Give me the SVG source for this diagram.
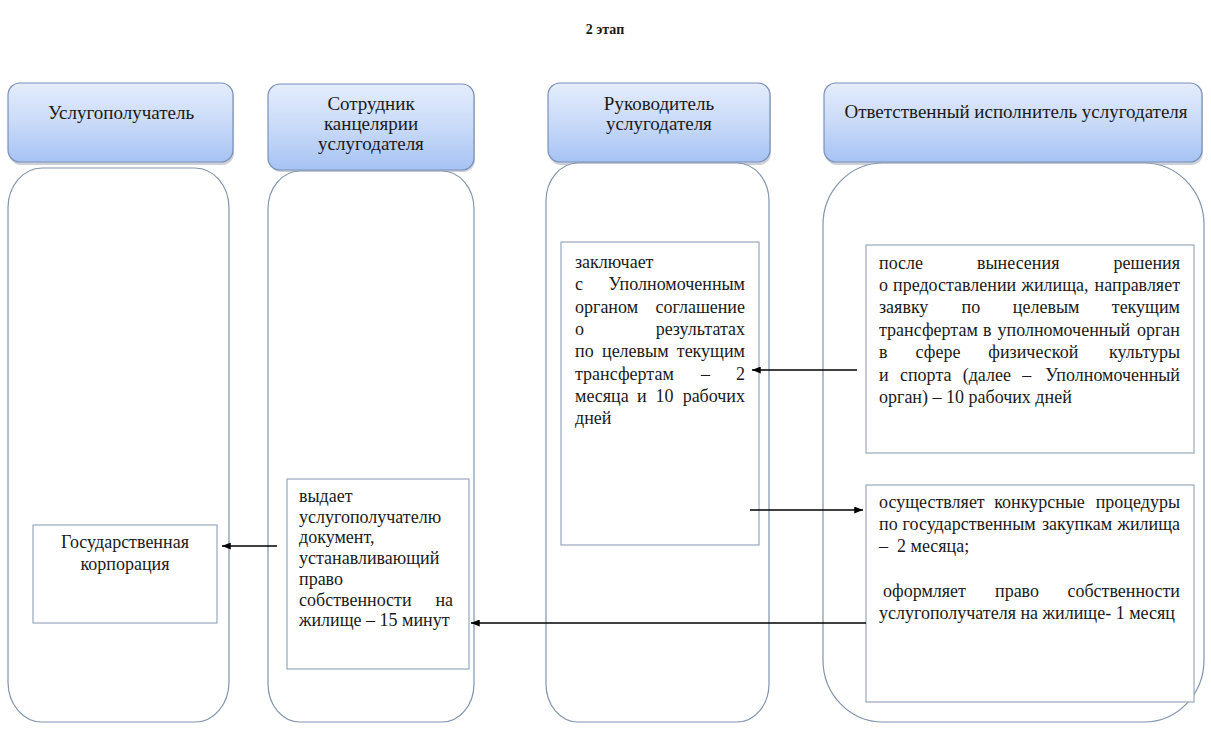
<svg xmlns="http://www.w3.org/2000/svg" width="1211" height="731" viewBox="0 0 1211 731" font-family="Liberation Serif, Times New Roman, serif" font-size="18">
<style>
text{fill:#1a1a1a}
.title{font-weight:bold;font-size:14px}
.h{font-size:19px}
.c{text-anchor:middle}
.e{text-anchor:end}
.hdr{fill:url(#hg);stroke:#7b90b8;stroke-width:1.2}
.shd{fill:#8d97aa;opacity:.45}
.lane{fill:#fff;stroke:#8194ad;stroke-width:1.2}
.box{fill:#fff;stroke:#8ea1b7;stroke-width:1.1}
.arr{stroke:#000;stroke-width:1.3;fill:none;marker-end:url(#ah)}
</style>
<defs>
<linearGradient id="hg" x1="0" y1="0" x2="0" y2="1">
<stop offset="0" stop-color="#e4edfc"/>
<stop offset="0.5" stop-color="#c9daf8"/>
<stop offset="1" stop-color="#a6c3f3"/>
</linearGradient>
<marker id="ah" viewBox="0 0 10 8" refX="10" refY="4" markerWidth="9" markerHeight="7" markerUnits="userSpaceOnUse" orient="auto">
<path d="M0,0 L10,4 L0,8 z" fill="#000"/>
</marker>
</defs>
<rect width="1211" height="731" fill="#fff"/>
<text class="title c" x="605" y="34" font-family="Liberation Serif, serif" font-weight="bold" font-size="14">2 этап</text>

<g id="lane1" font-family="Liberation Serif, serif">
<rect class="shd" x="9" y="85" width="225" height="80" rx="12"/>
<rect class="hdr" x="8" y="83" width="225" height="79" rx="12"/>
<text class="c h" x="121" y="119" font-size="19">Услугополучатель</text>
<rect class="lane" x="8" y="168" width="221" height="554" rx="34" ry="40"/>
</g>
<g id="lane2" font-family="Liberation Serif, serif">
<rect class="shd" x="269" y="86" width="206" height="86" rx="12"/>
<rect class="hdr" x="268" y="84" width="206" height="86" rx="12"/>
<text class="c h" x="371" y="110" font-size="19">Сотрудник</text>
<text class="c h" x="371" y="130" font-size="19">канцелярии</text>
<text class="c h" x="371" y="150" font-size="19">услугодателя</text>
<rect class="lane" x="268" y="171" width="206" height="551" rx="32" ry="38"/>
</g>
<g id="lane3" font-family="Liberation Serif, serif">
<rect class="shd" x="549" y="85" width="222" height="80" rx="12"/>
<rect class="hdr" x="548" y="83" width="222" height="79" rx="12"/>
<text class="c h" x="659" y="110" font-size="19">Руководитель</text>
<text class="c h" x="659" y="130" font-size="19">услугодателя</text>
<rect class="lane" x="546" y="163" width="223" height="559" rx="32" ry="38"/>
</g>
<g id="lane4" font-family="Liberation Serif, serif">
<rect class="shd" x="825" y="85" width="378" height="80" rx="12"/>
<rect class="hdr" x="824" y="83" width="378" height="79" rx="12"/>
<text class="c h" x="1016" y="118" font-size="19">Ответственный исполнитель услугодателя</text>
<rect class="lane" x="823" y="163" width="381" height="559" rx="60" ry="62"/>
</g>

<g id="box-korp" font-family="Liberation Serif, serif" font-size="18">
<rect class="box" x="33" y="525" width="184" height="98"/>
<text class="c" x="125" y="548">Государственная</text>
<text class="c" x="125" y="570">корпорация</text>
</g>

<g id="box-vydaet" font-family="Liberation Serif, serif" font-size="18">
<rect class="box" x="287" y="479" width="182" height="190"/>
<text x="299" y="502">выдает</text>
<text x="299" y="522.7">услугополучателю</text>
<text x="299" y="543.4">документ,</text>
<text x="299" y="564.1">устанавливающий</text>
<text x="299" y="584.8">право</text>
<text x="299" y="605.5">собственности</text><text class="e" x="453" y="605.5">на</text>
<text x="299" y="626.2">жилище – 15 минут</text>
</g>

<g id="box-zakl" font-family="Liberation Serif, serif" font-size="18">
<rect class="box" x="561" y="242" width="198" height="303"/>
<text x="575" y="268">заключает</text>
<text x="575" y="290.3">с</text><text class="e" x="745" y="290.3">Уполномоченным</text>
<text x="575" y="312.6">органом</text><text class="e" x="745" y="312.6">соглашение</text>
<text x="575" y="334.9">о</text><text class="e" x="745" y="334.9">результатах</text>
<text x="575" y="357.2">по<tspan x="602">целевым</tspan></text><text class="e" x="745" y="357.2">текущим</text>
<text x="575" y="379.5">трансфертам<tspan x="701">–</tspan></text><text class="e" x="745" y="379.5">2</text>
<text x="575" y="401.8">месяца<tspan x="637">и</tspan><tspan x="655.5">10</tspan></text><text class="e" x="745" y="401.8">рабочих</text>
<text x="575" y="424.1">дней</text>
</g>

<g id="box-posle" font-family="Liberation Serif, serif" font-size="18">
<rect class="box" x="866" y="245" width="328" height="208"/>
<text x="879" y="268.5">после<tspan x="977">вынесения</tspan></text><text class="e" x="1180" y="268.5">решения</text>
<text x="879" y="290.9">о<tspan x="893">предоставлении</tspan><tspan x="1021.5">жилища,</tspan></text><text class="e" x="1180" y="290.9">направляет</text>
<text x="879" y="313.3">заявку<tspan x="961.6">по</tspan><tspan x="1012.8">целевым</tspan></text><text class="e" x="1180" y="313.3">текущим</text>
<text x="879" y="335.7">трансфертам<tspan x="983">в</tspan><tspan x="997.5">уполномоченный</tspan></text><text class="e" x="1180" y="335.7">орган</text>
<text x="879" y="358.1">в<tspan x="915.6">сфере</tspan><tspan x="988.3">физической</tspan></text><text class="e" x="1180" y="358.1">культуры</text>
<text x="879" y="380.5">и<tspan x="900">спорта</tspan><tspan x="962.7">(далее</tspan><tspan x="1022.2">–</tspan></text><text class="e" x="1180" y="380.5">Уполномоченный</text>
<text x="879" y="402.9">орган) – 10 рабочих дней</text>
</g>

<g id="box-konkurs" font-family="Liberation Serif, serif" font-size="18">
<rect class="box" x="866" y="485" width="328" height="217"/>
<text x="879" y="507.5">осуществляет<tspan x="994.2">конкурсные</tspan></text><text class="e" x="1180" y="507.5">процедуры</text>
<text x="879" y="530">по<tspan x="902.6">государственным</tspan><tspan x="1042">закупкам</tspan></text><text class="e" x="1180" y="530">жилища</text>
<text x="879" y="552">–<tspan dx="9">2 месяца;</tspan></text>
<text x="883" y="597">оформляет<tspan x="995">право</tspan></text><text class="e" x="1180" y="597">собственности</text>
<text x="879" y="619">услугополучателя на жилище- 1 месяц</text>
</g>

<g id="connectors">
<line class="arr" x1="857" y1="370" x2="752" y2="370"/>
<line class="arr" x1="750" y1="510" x2="863" y2="510"/>
<line class="arr" x1="277" y1="546" x2="222" y2="546"/>
<line class="arr" x1="866" y1="623" x2="471" y2="623"/>
</g>
</svg>
